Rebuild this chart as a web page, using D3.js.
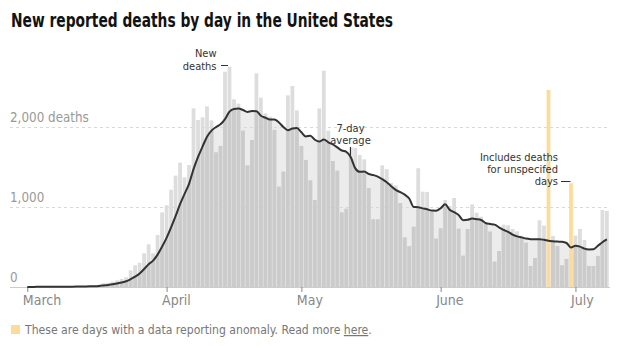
<!DOCTYPE html>
<html>
<head>
<meta charset="utf-8">
<script src="https://cdn.jsdelivr.net/npm/d3@7"></script>
<style>
  body { margin: 0; background: #fff; }
  svg text { font-family: 'Liberation Sans Narrow', 'DejaVu Sans Condensed', sans-serif; }
</style>
</head>
<body>
<div id="chart"></div>
<script>
// New reported deaths per day, Mar 1 - Jul 8 2020
var newDeaths = [
  1, 1, 3, 2, 1, 2, 3, 4, 4, 6,
  7, 9, 10, 10, 12, 18, 30, 50, 54, 67,
  83, 100, 121, 208, 271, 304, 421, 533, 421, 650,
  933, 1021, 1217, 1392, 1554, 1371, 1525, 2233, 2088, 2121,
  2258, 2083, 1683, 1763, 2692, 2754, 2346, 2292, 1954, 1521,
  1838, 2671, 2367, 2171, 2129, 1963, 1254, 1442, 2396, 2513,
  2208, 1763, 1588, 1333, 1088, 2233, 2704, 1954, 1575, 1454,
  933, 979, 1746, 1740, 1650, 1596, 1238, 846, 846, 1521,
  1473, 1300, 1270, 1050, 620, 510, 754, 1485, 1192, 1188,
  942, 604, 733, 1088, 1013, 1113, 729, 392, 725, 1033,
  929, 879, 796, 692, 317, 450, 779, 771, 725, 696,
  640, 554, 263, 362, 833, 767, 2463, 638, 513, 271,
  350, 1296, 642, 725, 588, 263, 263, 388, 963, 950
];

// 7-day average line
var avgDeaths = [
  1, 1, 2, 2, 2, 2, 2, 2, 3, 3,
  4, 5, 6, 7, 8, 10, 14, 20, 26, 34,
  45, 57, 72, 98, 129, 170, 225, 285, 330, 405,
  505, 615, 745, 885, 1035, 1165, 1290, 1473, 1626, 1755,
  1879, 1954, 1999, 2033, 2098, 2193, 2226, 2230, 2212, 2189,
  2200, 2197, 2141, 2116, 2093, 2094, 2056, 2000, 1960, 1981,
  1986, 1934, 1881, 1892, 1841, 1818, 1845, 1809, 1782, 1745,
  1706, 1690, 1621, 1483, 1440, 1443, 1412, 1399, 1380, 1348,
  1310, 1260, 1213, 1187, 1154, 1106, 1000, 998, 983, 971,
  956, 954, 985, 1033, 966, 935, 900, 835, 840, 855,
  848, 838, 800, 788, 780, 745, 713, 690, 655, 633,
  620, 605, 598, 596, 598, 590, 578, 572, 568, 565,
  550, 495, 515, 505, 480, 470, 472, 515, 560, 595
];

var anomalyDates = ["2020-06-25", "2020-06-30"];
var monthTicks = ["2020-03-01", "2020-04-01", "2020-05-01", "2020-06-01", "2020-07-01"];
var monthLabels = ["March", "April", "May", "June", "July"];
var yTicks = [0, 1000, 2000];
var yTickLabels = ["0", "1,000", "2,000 deaths"];

var svgWidth = 621;
var svgHeight = 348;

var startDate = new Date(Date.UTC(2020, 2, 1));
var dates = d3.utcDay.range(startDate, d3.utcDay.offset(startDate, newDeaths.length));
var parseDay = d3.utcParse("%Y-%m-%d");
var anomalySet = new Set(anomalyDates.map(function(s) { return +parseDay(s); }));

var data = dates.map(function(d, i) {
  return { date: d, deaths: newDeaths[i], avg: avgDeaths[i], anomaly: anomalySet.has(+d) };
});

var svg = d3.select("#chart")
  .append("svg")
  .attr("width", svgWidth)
  .attr("height", svgHeight);

// scales
var x = d3.scaleTime()
  .domain([dates[0], dates[dates.length - 1]])
  .range([27.3, 606.9]);

var y = d3.scaleLinear()
  .domain([0, 2000])
  .range([287, 127]);

var step = x(dates[1]) - x(dates[0]);
var barW = step * 0.84;

// area under 7-day average
var area = d3.area()
  .x(d => x(d.date))
  .y0(y(0))
  .y1(d => y(d.avg))
  .curve(d3.curveMonotoneX);

var line = d3.line()
  .x(d => x(d.date))
  .y(d => y(d.avg))
  .curve(d3.curveMonotoneX);

svg.append("defs")
  .append("clipPath")
  .attr("id", "under-avg")
  .append("path")
  .attr("d", area(data));

svg.append("path")
  .attr("d", area(data))
  .attr("fill", "#ececec");

// gridlines
svg.append("g")
  .selectAll("line")
  .data(yTicks.filter(t => t > 0))
  .enter()
  .append("line")
  .attr("x1", 10)
  .attr("x2", 610)
  .attr("y1", d => y(d) + 0.5)
  .attr("y2", d => y(d) + 0.5)
  .attr("stroke", "#d8d8d8")
  .attr("stroke-dasharray", "3,3");

var normal = data.filter(d => !d.anomaly);

// bars, lighter above the average line
svg.append("g")
  .selectAll("rect")
  .data(normal)
  .enter()
  .append("rect")
  .attr("x", d => x(d.date) - barW / 2)
  .attr("width", barW)
  .attr("y", d => y(d.deaths))
  .attr("height", d => y(0) - y(d.deaths))
  .attr("fill", "#dddddd");

// same bars, darker under the average line
svg.append("g")
  .attr("clip-path", "url(#under-avg)")
  .selectAll("rect")
  .data(normal)
  .enter()
  .append("rect")
  .attr("x", d => x(d.date) - barW / 2)
  .attr("width", barW)
  .attr("y", d => y(d.deaths))
  .attr("height", d => y(0) - y(d.deaths))
  .attr("fill", "#cbcbcb");

// anomaly days
svg.append("g")
  .selectAll("rect")
  .data(data.filter(d => d.anomaly))
  .enter()
  .append("rect")
  .attr("x", d => x(d.date) - barW / 2)
  .attr("width", barW)
  .attr("y", d => y(d.deaths))
  .attr("height", d => y(0) - y(d.deaths))
  .attr("fill", "#fddb9b");

// x axis
svg.append("line")
  .attr("x1", 10)
  .attr("x2", 610)
  .attr("y1", y(0) + 0.5)
  .attr("y2", y(0) + 0.5)
  .attr("stroke", "#cccccc");

var xAxis = svg.append("g")
  .attr("transform", `translate(0, ${y(0)})`)
  .call(d3.axisBottom(x)
    .tickValues(monthTicks.map(parseDay))
    .tickSize(5)
    .tickFormat((d, i) => monthLabels[i]));

xAxis.select(".domain").remove();
xAxis.selectAll(".tick line").attr("stroke", "#888");
xAxis.selectAll(".tick text")
  .attr("text-anchor", "start")
  .attr("x", -5)
  .attr("y", 18)
  .attr("dy", 0)
  .attr("font-size", 14)
  .attr("font-family", null)
  .attr("fill", "#888");

// 7-day average line
svg.append("path")
  .attr("d", line(data))
  .attr("fill", "none")
  .attr("stroke", "#333")
  .attr("stroke-width", 2);

// y labels
svg.append("g")
  .selectAll("text")
  .data(yTicks)
  .enter()
  .append("text")
  .attr("x", 10)
  .attr("y", d => y(d) - 5.5)
  .attr("font-size", 13.3)
  .attr("fill", "#999")
  .text((d, i) => yTickLabels[i]);

// annotations
var notes = svg.append("g")
  .attr("font-size", 11)
  .attr("fill", "#333");

notes.append("text").attr("x", 216.5).attr("y", 57).attr("text-anchor", "end").text("New");
notes.append("text").attr("x", 216.5).attr("y", 69.5).attr("text-anchor", "end").text("deaths");
notes.append("line").attr("x1", 221).attr("x2", 228).attr("y1", 65.5).attr("y2", 65.5).attr("stroke", "#333");

notes.append("text").attr("x", 350.5).attr("y", 132).attr("text-anchor", "middle").text("7-day");
notes.append("text").attr("x", 350.5).attr("y", 144).attr("text-anchor", "middle").text("average");
notes.append("line").attr("x1", 350.5).attr("x2", 350.5).attr("y1", 147).attr("y2", 158).attr("stroke", "#333");

notes.append("text").attr("x", 558).attr("y", 161).attr("text-anchor", "end").text("Includes deaths");
notes.append("text").attr("x", 558).attr("y", 173).attr("text-anchor", "end").text("for unspecifed");
notes.append("text").attr("x", 558).attr("y", 185).attr("text-anchor", "end").text("days");
notes.append("line").attr("x1", 561).attr("x2", 570.5).attr("y1", 181.5).attr("y2", 181.5).attr("stroke", "#333");

// title
svg.append("text")
  .attr("x", 11)
  .attr("y", 27)
  .attr("font-size", 20)
  .attr("font-weight", "bold")
  .attr("fill", "#121212")
  .attr("textLength", 382)
  .attr("lengthAdjust", "spacingAndGlyphs")
  .text("New reported deaths by day in the United States");

// footnote
svg.append("rect")
  .attr("x", 11)
  .attr("y", 325)
  .attr("width", 9)
  .attr("height", 9)
  .attr("fill", "#fddb9b");

var foot = svg.append("text")
  .attr("x", 25)
  .attr("y", 334)
  .attr("font-size", 12.1)
  .attr("fill", "#777");
foot.append("tspan").text("These are days with a data reporting anomaly. Read more ");
foot.append("tspan").attr("text-decoration", "underline").text("here");
foot.append("tspan").text(".");
</script>
</body>
</html>
